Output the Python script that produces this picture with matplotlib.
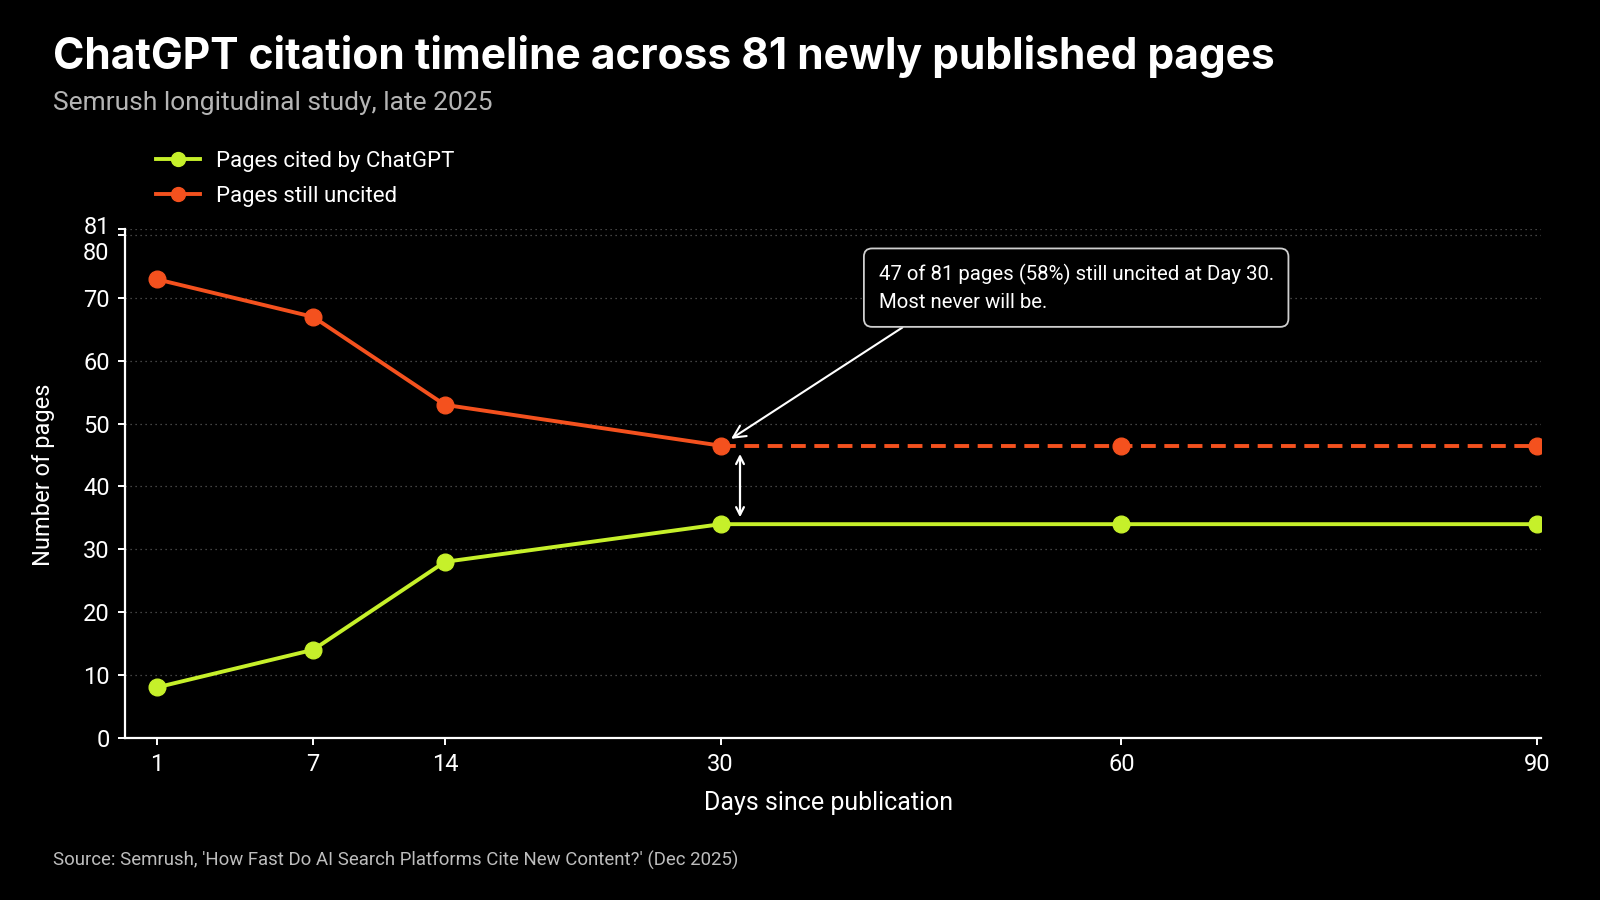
import numpy as np
import matplotlib
matplotlib.use('Agg')
import matplotlib.pyplot as plt
from matplotlib.transforms import ScaledTranslation
from matplotlib.lines import Line2D

# data
days = [1, 7, 14, 30, 60, 90]
cited = [8, 14, 28, 34, 34, 34]
uncited = [73, 67, 53, 46.5, 46.5, 46.5]
y_ticks = [0, 10, 20, 30, 40, 50, 60, 70, 80, 81]

title = 'ChatGPT citation timeline across 81 newly published pages'
subtitle = 'Semrush longitudinal study, late 2025'
source = "Source: Semrush, 'How Fast Do AI Search Platforms Cite New Content?' (Dec 2025)"
note = '47 of 81 pages (58%) still uncited at Day 30.\nMost never will be.'

GREEN = '#C6F02A'
RED = '#F4511E'
GRID = '#5a5a5a'

# x axis is not linear in the original: piecewise mapping of days -> position
scale_days = [1, 7, 14, 30, 60, 90]
scale_pos = [156.7, 313.3, 445.0, 720.7, 1121.4, 1537.5]
lo_slope = (scale_pos[1] - scale_pos[0]) / (scale_days[1] - scale_days[0])
hi_slope = (scale_pos[-1] - scale_pos[-2]) / (scale_days[-1] - scale_days[-2])
ext_days = [-20] + scale_days + [200]
ext_pos = [scale_pos[0] - 21 * lo_slope] + scale_pos + [scale_pos[-1] + 110 * hi_slope]


def fwd(d):
    return np.interp(d, ext_days, ext_pos)


def inv(p):
    return np.interp(p, ext_pos, ext_days)


plt.rcParams['font.family'] = ['Roboto', 'DejaVu Sans']

fig = plt.figure(figsize=(16, 9), dpi=100, facecolor='black')
ax = fig.add_axes([0.0781, 0.1803, 0.8850, 0.5653])
ax.set_facecolor('black')
ax.set_xscale('function', functions=(fwd, inv))

# solid part and dashed plateau of the uncited line
ax.plot(days[:4], uncited[:4], color=RED, lw=2.8, solid_capstyle='round', zorder=3)
ax.plot(days[3:], uncited[3:], color=RED, lw=2.8, dashes=(3.8, 2.2), zorder=3)
ax.plot(days, uncited, color=RED, lw=0, marker='o', ms=12, zorder=4)
ax.plot(days, cited, color=GREEN, lw=2.8, marker='o', ms=12, zorder=4)

ax.set_xlim(-0.21, 90.25)
ax.set_ylim(0, 81)
ax.set_xticks(days)
ax.set_xticklabels([str(d) for d in days])
ax.set_yticks(y_ticks)
ax.grid(axis='y', color=GRID, lw=0.9, linestyle=(0, (1, 3)))
ax.set_axisbelow(True)

for s in ['top', 'right']:
    ax.spines[s].set_visible(False)
for s in ['left', 'bottom']:
    ax.spines[s].set_color('white')
    ax.spines[s].set_linewidth(1.6)
ax.tick_params(colors='white', labelsize=17, length=5, width=1.4, pad=6)

# 80 and 81 labels would sit on top of each other
for lab in ax.get_yticklabels():
    if lab.get_text() == '80':
        lab.set_transform(lab.get_transform() + ScaledTranslation(0, -11 / 72, fig.dpi_scale_trans))
    if lab.get_text() == '81':
        lab.set_transform(lab.get_transform() + ScaledTranslation(0, 3 / 72, fig.dpi_scale_trans))

# legend
handles = [Line2D([], [], color=GREEN, lw=2.8, marker='o', ms=10),
           Line2D([], [], color=RED, lw=2.8, marker='o', ms=10)]
leg = fig.legend(handles, ['Pages cited by ChatGPT', 'Pages still uncited'],
                 loc='upper left', bbox_to_anchor=(0.0975, 0.832), frameon=False,
                 fontsize=16, handlelength=2.0, handletextpad=0.72, labelspacing=0.6,
                 borderpad=0, borderaxespad=0)
for t in leg.get_texts():
    t.set_color('white')

# callout with arrow to the Day 30 point
ax.annotate(note, xy=(days[3], uncited[3]), xycoords='data',
            xytext=(878.6, 612), textcoords='figure pixels',
            ha='left', va='center', color='white', fontsize=14.7, linespacing=1.55,
            bbox=dict(boxstyle='round,pad=0.72,rounding_size=0.4', fc='black', ec='#cfcfcf', lw=1.3),
            arrowprops=dict(arrowstyle='->,head_length=0.6,head_width=0.3', color='white', lw=1.5,
                            relpos=(0.12, 0), shrinkA=0, shrinkB=9))

# gap arrow between the two series at Day 30
shift = ax.transData + ScaledTranslation(19.4 / 100, 0, fig.dpi_scale_trans)
ax.annotate('', xy=(days[3], cited[3]), xycoords=shift,
            xytext=(days[3], uncited[3]), textcoords=shift,
            arrowprops=dict(arrowstyle='<->,head_length=0.55,head_width=0.28', color='white', lw=1.6,
                            shrinkA=6, shrinkB=5))

fig.text(0.033, 0.923, title, color='white', fontsize=30.6, fontweight='bold', va='baseline',
         family=['Inter', 'DejaVu Sans'])
fig.text(0.033, 0.878, subtitle, color='#b5b5b5', fontsize=19, va='baseline')
fig.text(0.027, 0.472, 'Number of pages', color='white', fontsize=17, rotation=90,
         ha='center', va='center')
fig.text(0.518, 0.108, 'Days since publication', color='white', fontsize=18,
         ha='center', va='center')
fig.text(0.033, 0.044, source, color='#bdbdbd', fontsize=13.4, va='center')

fig.savefig('out.png', dpi=100, facecolor='black')
